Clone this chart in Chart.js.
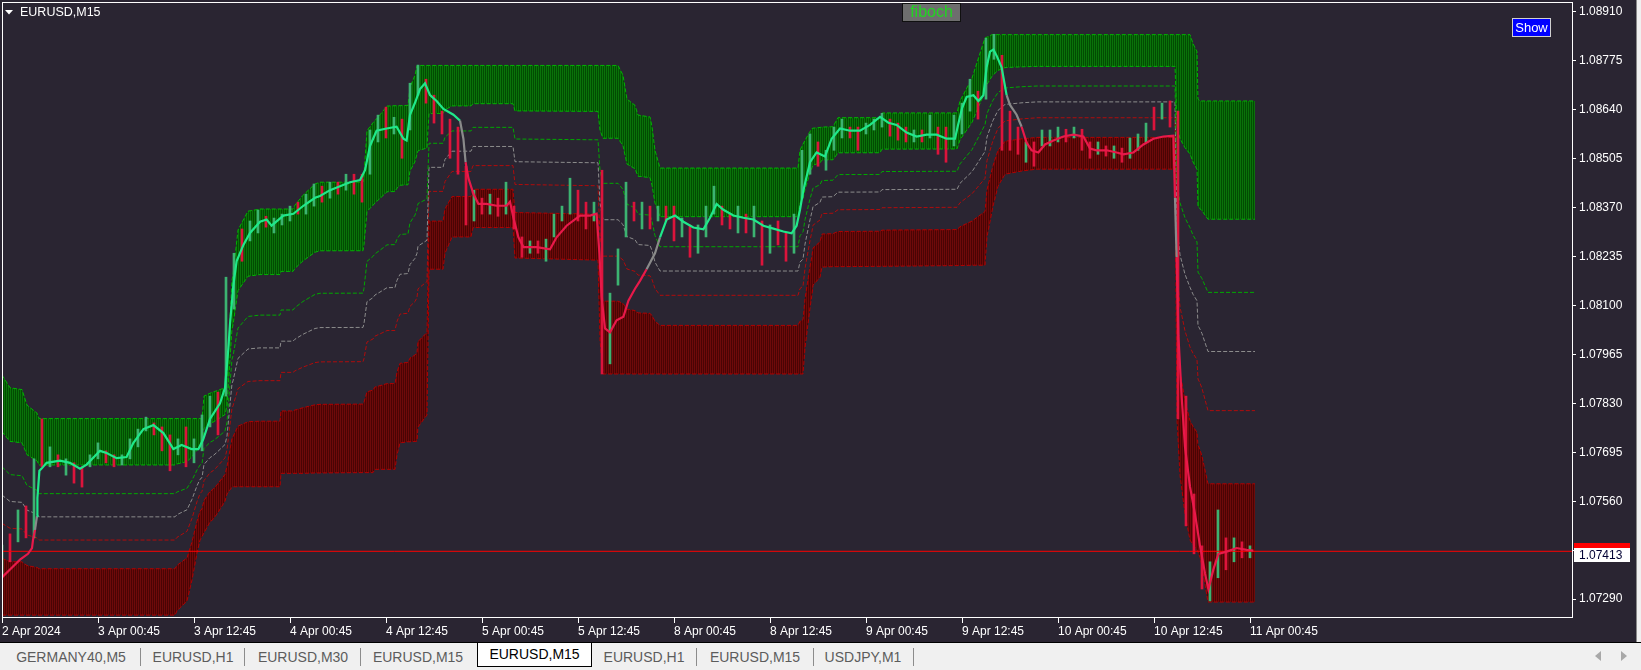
<!DOCTYPE html>
<html>
<head>
<meta charset="utf-8">
<script src="https://cdn.jsdelivr.net/npm/chart.js@4.4.1/dist/chart.umd.min.js"></script>
<style>
  html, body { margin: 0; padding: 0; width: 1641px; height: 670px; overflow: hidden; background: #f0f0f0; font-family: "Liberation Sans", Arial, sans-serif; }
  #panel { position: absolute; left: 0; top: 0; width: 1636px; height: 642px; background: #2a2532; border-right: 1px solid #8a8a8a; }
  #tabs { position: absolute; left: 0; top: 642px; width: 1641px; height: 28px; border-top: 1px solid #000; background: #f0f0f0; }
  .tab { position: absolute; top: 4px; font-size: 14px; color: #5c5c5c; text-align: center; line-height: 20px; }
  .tab.on { top: 0; height: 23px; line-height: 23px; background: #fff; color: #000; border: 1px solid #000; border-top: none; }
  .sep { position: absolute; top: 5px; width: 1px; height: 18px; background: #8c8c8c; }
  .arr { position: absolute; top: 8px; width: 0; height: 0; border-top: 5px solid transparent; border-bottom: 5px solid transparent; }
</style>
</head>
<body>
<div id="panel"><canvas id="chart" width="1636" height="642"></canvas></div>
<div id="tabs">
  <span class="tab" style="left:8px;width:126px">GERMANY40,M5</span>
  <div class="sep" style="left:140px"></div>
  <span class="tab" style="left:146px;width:94px">EURUSD,H1</span>
  <div class="sep" style="left:244px"></div>
  <span class="tab" style="left:250px;width:106px">EURUSD,M30</span>
  <div class="sep" style="left:360px"></div>
  <span class="tab" style="left:366px;width:104px">EURUSD,M15</span>
  <span class="tab on" style="left:477px;width:113px">EURUSD,M15</span>
  <span class="tab" style="left:596px;width:96px">EURUSD,H1</span>
  <div class="sep" style="left:696px"></div>
  <span class="tab" style="left:702px;width:106px">EURUSD,M15</span>
  <div class="sep" style="left:813px"></div>
  <span class="tab" style="left:818px;width:90px">USDJPY,M1</span>
  <div class="sep" style="left:913px"></div>
  <div class="arr" style="left:1595px;border-right:6px solid #a8a8a8"></div>
  <div class="arr" style="left:1621px;border-left:6px solid #a8a8a8"></div>
</div>
<script>
// ---- EURUSD M15 data (1 unit on x = one M15 bar) ----
const timeLabels = ['2 Apr 2024', '3 Apr 00:45', '3 Apr 12:45', '4 Apr 00:45', '4 Apr 12:45', '5 Apr 00:45', '5 Apr 12:45',
  '8 Apr 00:45', '8 Apr 12:45', '9 Apr 00:45', '9 Apr 12:45', '10 Apr 00:45', '10 Apr 12:45', '11 Apr 00:45'];
const barsPerLabel = 48;
const barsPerCandle = 4; // one hourly candle range per 4 bars

const priceTicks = [1.07290, 1.07425, 1.07560, 1.07695, 1.07830, 1.07965, 1.08100,
  1.08235, 1.08370, 1.08505, 1.08640, 1.08775, 1.08910];

// hourly high / low / direction
const candleHi = [
  1.07439, 1.07470, 1.07536, 1.07547, 1.07677, 1.07787, 1.07710, 1.07688, 1.07677, 1.07666,
  1.07655, 1.07688, 1.07721, 1.07699, 1.07688, 1.07688, 1.07732, 1.07759, 1.07792, 1.07776,
  1.07765, 1.07743, 1.07732, 1.07765, 1.07732, 1.07798, 1.07850, 1.07861, 1.08178, 1.08244,
  1.08311, 1.08333, 1.08363, 1.08346, 1.08341, 1.08352, 1.08374, 1.08385, 1.08407, 1.08435,
  1.08429, 1.08440, 1.08440, 1.08462, 1.08462, 1.08462, 1.08584, 1.08625, 1.08647, 1.08619,
  1.08614, 1.08713, 1.08763, 1.08724, 1.08680, 1.08636, 1.08614, 1.08592, 1.08484, 1.08418,
  1.08396, 1.08407, 1.08396, 1.08440, 1.08374, 1.08289, 1.08278, 1.08278, 1.08283, 1.08352,
  1.08374, 1.08451, 1.08418, 1.08385, 1.08385, 1.08473, 1.08134, 1.08256, 1.08440, 1.08385,
  1.08385, 1.08374, 1.08374, 1.08374, 1.08374, 1.08341, 1.08322, 1.08322, 1.08374, 1.08429,
  1.08374, 1.08352, 1.08374, 1.08352, 1.08374, 1.08333, 1.08322, 1.08333, 1.08300, 1.08352,
  1.08528, 1.08573, 1.08551, 1.08528, 1.08592, 1.08614, 1.08592, 1.08592, 1.08603, 1.08614,
  1.08630, 1.08614, 1.08603, 1.08592, 1.08584, 1.08584, 1.08625, 1.08592, 1.08592, 1.08625,
  1.08658, 1.08724, 1.08691, 1.08837, 1.08848, 1.08790, 1.08636, 1.08592, 1.08551, 1.08551,
  1.08584, 1.08584, 1.08592, 1.08586, 1.08592, 1.08586, 1.08551, 1.08551, 1.08540, 1.08540,
  1.08534, 1.08562, 1.08573, 1.08603, 1.08647, 1.08658, 1.08664, 1.08636, 1.07850, 1.07580,
  1.07437, 1.07393, 1.07536, 1.07459, 1.07459, 1.07448, 1.07437];
const candleLo = [
  1.07357, 1.07393, 1.07448, 1.07459, 1.07459, 1.07655, 1.07655, 1.07655, 1.07632, 1.07610,
  1.07599, 1.07655, 1.07677, 1.07666, 1.07655, 1.07660, 1.07677, 1.07710, 1.07754, 1.07743,
  1.07699, 1.07644, 1.07688, 1.07655, 1.07666, 1.07699, 1.07765, 1.07743, 1.07850, 1.08090,
  1.08222, 1.08278, 1.08300, 1.08316, 1.08300, 1.08322, 1.08333, 1.08352, 1.08352, 1.08374,
  1.08385, 1.08396, 1.08407, 1.08418, 1.08407, 1.08385, 1.08462, 1.08551, 1.08562, 1.08573,
  1.08506, 1.08584, 1.08680, 1.08658, 1.08603, 1.08573, 1.08506, 1.08462, 1.08322, 1.08333,
  1.08352, 1.08352, 1.08346, 1.08352, 1.08311, 1.08233, 1.08244, 1.08244, 1.08222, 1.08289,
  1.08333, 1.08352, 1.08333, 1.08311, 1.08333, 1.07911, 1.07939, 1.08156, 1.08289, 1.08333,
  1.08311, 1.08311, 1.08333, 1.08333, 1.08278, 1.08289, 1.08233, 1.08244, 1.08289, 1.08352,
  1.08322, 1.08311, 1.08300, 1.08300, 1.08289, 1.08211, 1.08244, 1.08267, 1.08222, 1.08244,
  1.08396, 1.08462, 1.08484, 1.08473, 1.08528, 1.08562, 1.08562, 1.08528, 1.08573, 1.08584,
  1.08592, 1.08567, 1.08556, 1.08551, 1.08551, 1.08551, 1.08562, 1.08517, 1.08495, 1.08540,
  1.08573, 1.08636, 1.08614, 1.08669, 1.08779, 1.08528, 1.08528, 1.08517, 1.08495, 1.08484,
  1.08540, 1.08540, 1.08551, 1.08551, 1.08562, 1.08528, 1.08506, 1.08517, 1.08512, 1.08506,
  1.08495, 1.08506, 1.08528, 1.08551, 1.08584, 1.08614, 1.08592, 1.07787, 1.07492, 1.07415,
  1.07318, 1.07285, 1.07349, 1.07371, 1.07393, 1.07404, 1.07404];
const candleUp = [
  1,0,1,0,1,0,1,0,1,0, 0,1,1,0,0,1,1,1,1,0, 0,0,1,0,1,1,1,0,1,1, 0,1,1,0,1,1,1,0,1,1,
  0,1,0,1,0,0,1,1,0,1, 0,1,1,0,0,0,0,0,0,1, 0,1,0,1,0,0,1,0,1,1, 1,1,0,0,1,0,1,1,1,0,
  1,0,1,0,0,1,0,1,1,1, 0,0,1,0,1,0,1,0,0,1, 1,1,0,1,1,1,0,0,1,1, 1,0,0,0,1,0,1,0,0,1,
  1,1,0,1,1,0,0,0,1,0, 1,1,1,0,1,0,0,1,0,1, 0,1,1,1,0,1,0,0,0,0, 0,1,1,0,1,0,1];

// smoothed trend line
const maBars = [0, 4, 9, 13, 15, 15.5, 16.5, 17.5, 17.7, 18.7, 19.8, 22.3, 29, 34, 39, 42.3, 49, 52.3, 57.3, 62.3,
  65.7, 70.7, 75.7, 80.7, 85.7, 89.8, 94.8, 98.2, 100.7, 104, 109, 111.5, 113.2, 114, 115.7, 117.3, 120.7, 124, 129, 132.3,
  134.8, 140.7, 145.7, 150.7, 156.5, 159, 164, 169, 174, 179, 181.5, 184, 187.3, 192.3, 197.3, 200.7, 202.3, 204, 206.5, 209,
  211.5, 214, 217.3, 220.7, 225.7, 229, 230.7, 231.8, 233.2, 235.7, 238.2, 242.3, 247.3, 252.3, 254, 255.7, 258.2, 260.7, 267.3, 274,
  277.3, 282.3, 289, 294, 297.3, 298.7, 299.8, 301.5, 304, 307.3, 310.7, 313.2, 316.5, 319, 322.3, 326.5, 329, 332.3, 336.5, 340.7,
  345.7, 350.7, 354, 357.3, 360.7, 365.7, 370.7, 375.7, 380.7, 385.7, 390.7, 394.8, 397.3, 399, 400.7, 404, 407.3, 411.5, 414.8, 419,
  424, 429, 434, 439, 443.2, 447.3, 452.3, 457.3, 462.3, 467.3, 472.3, 476.5, 478, 480, 482.3, 485.7, 488.2, 490.7, 492.3, 494,
  495.7, 497.3, 499.8, 502.3, 504, 507.3, 509.8, 512.3, 514.8, 518.2, 521.5, 525.7, 530.7, 535.7, 540.7, 544, 547.3, 552.3, 557.3, 560.7,
  565.7, 570.7, 575.7, 580.7, 585.7, 586.5, 587.3, 588.2, 589.8, 591.5, 594, 596.5, 599, 601.5, 603.2, 605.7, 608.2, 612.3, 617.3, 622.3,
  625.7];
const maValues = [1.07350, 1.07372, 1.07399, 1.07415, 1.07431, 1.07453, 1.07481, 1.07519, 1.07569, 1.07644, 1.07650, 1.07666, 1.07672, 1.07666, 1.07650, 1.07661, 1.07699, 1.07693, 1.07679, 1.07682,
  1.07721, 1.07759, 1.07770, 1.07748, 1.07704, 1.07715, 1.07704, 1.07704, 1.07732, 1.07787, 1.07830, 1.07873, 1.07983, 1.08049, 1.08157, 1.08222, 1.08267, 1.08300, 1.08331, 1.08337,
  1.08320, 1.08348, 1.08353, 1.08375, 1.08397, 1.08402, 1.08418, 1.08429, 1.08440, 1.08446, 1.08473, 1.08540, 1.08582, 1.08588, 1.08593, 1.08560, 1.08555, 1.08626, 1.08659, 1.08697,
  1.08713, 1.08680, 1.08664, 1.08642, 1.08626, 1.08610, 1.08560, 1.08495, 1.08451, 1.08408, 1.08380, 1.08380, 1.08375, 1.08375, 1.08386, 1.08342, 1.08288, 1.08261, 1.08261, 1.08255,
  1.08288, 1.08320, 1.08348, 1.08348, 1.08353, 1.08244, 1.08124, 1.08037, 1.08026, 1.08059, 1.08069, 1.08113, 1.08146, 1.08168, 1.08200, 1.08244, 1.08288, 1.08337, 1.08348, 1.08331,
  1.08315, 1.08310, 1.08342, 1.08380, 1.08364, 1.08348, 1.08342, 1.08337, 1.08320, 1.08312, 1.08304, 1.08299, 1.08320, 1.08364, 1.08418, 1.08495, 1.08522, 1.08511, 1.08560, 1.08588,
  1.08582, 1.08582, 1.08598, 1.08620, 1.08604, 1.08598, 1.08577, 1.08566, 1.08571, 1.08571, 1.08560, 1.08560, 1.08597, 1.08644, 1.08675, 1.08680, 1.08664, 1.08680, 1.08757, 1.08800,
  1.08806, 1.08789, 1.08757, 1.08680, 1.08653, 1.08626, 1.08593, 1.08549, 1.08528, 1.08522, 1.08544, 1.08555, 1.08566, 1.08571, 1.08566, 1.08533, 1.08528, 1.08528, 1.08522, 1.08517,
  1.08522, 1.08544, 1.08560, 1.08566, 1.08568, 1.08397, 1.08233, 1.08016, 1.07851, 1.07710, 1.07600, 1.07525, 1.07437, 1.07361, 1.07317, 1.07372, 1.07415, 1.07421, 1.07431, 1.07426,
  1.07424];
// bar where the trend colour switches, and the state from there on
const trendStart = [0, 16, 17.5, 229, 231.5, 321.5, 327.5, 500.5, 508, 586, 587.3];
const trendState = ['down', 'flat', 'up', 'flat', 'down', 'flat', 'up', 'flat', 'down', 'flat', 'down'];

// fibo channel: highest high / lowest low
const chanBars = [0, 4, 10, 12.5, 17.5, 18.5, 86.5, 87.5, 92.5, 95,
  97.5, 99, 100, 101, 104, 105.5, 107.5, 111.5, 112.5, 115,
  115.5, 118, 123, 129, 139, 139.5, 145.5, 146.5, 150.5, 156.5,
  159, 180.5, 181, 182.5, 185.5, 186.5, 189, 192.5, 196.5, 197.5,
  199, 203, 204, 206.5, 207.5, 208, 212.5, 213.5, 220.5, 221.5,
  225, 234.5, 235.5, 255.5, 256.5, 298, 299, 300.5, 308, 310.5,
  312.5, 316.5, 318, 324, 325, 326.5, 329, 398, 399, 400.5,
  401.5, 404, 405, 405.5, 409, 410, 415.5, 418, 439, 440,
  477.5, 479, 485, 491.5, 492.5, 495, 495.5, 498, 501.5, 510,
  517.5, 586.5, 587.5, 589, 591.5, 594, 595.5, 597.5, 598, 599,
  600, 603, 626.5];
const chanHigh = [1.07908, 1.07873, 1.07868, 1.07825, 1.07803, 1.07788, 1.07788, 1.07788, 1.07788, 1.07788,
  1.07788, 1.07788, 1.07788, 1.07850, 1.07858, 1.07861, 1.07865, 1.07873, 1.07900, 1.08170,
  1.08184, 1.08308, 1.08360, 1.08366, 1.08366, 1.08366, 1.08366, 1.08377, 1.08404, 1.08435,
  1.08440, 1.08440, 1.08462, 1.08582, 1.08604, 1.08610, 1.08626, 1.08650, 1.08651, 1.08651,
  1.08651, 1.08652, 1.08702, 1.08735, 1.08762, 1.08762, 1.08762, 1.08762, 1.08762, 1.08762,
  1.08762, 1.08762, 1.08762, 1.08762, 1.08762, 1.08762, 1.08762, 1.08762, 1.08762, 1.08735,
  1.08669, 1.08652, 1.08625, 1.08620, 1.08593, 1.08528, 1.08479, 1.08479, 1.08528, 1.08545,
  1.08555, 1.08580, 1.08588, 1.08589, 1.08591, 1.08592, 1.08593, 1.08618, 1.08618, 1.08631,
  1.08631, 1.08664, 1.08727, 1.08838, 1.08840, 1.08847, 1.08847, 1.08847, 1.08847, 1.08847,
  1.08847, 1.08847, 1.08847, 1.08847, 1.08847, 1.08847, 1.08822, 1.08800, 1.08669, 1.08664,
  1.08664, 1.08664, 1.08664];
const chanLow = [1.07246, 1.07246, 1.07246, 1.07246, 1.07246, 1.07246, 1.07246, 1.07258, 1.07285, 1.07343,
  1.07417, 1.07453, 1.07463, 1.07473, 1.07503, 1.07510, 1.07525, 1.07560, 1.07580, 1.07599,
  1.07600, 1.07600, 1.07600, 1.07600, 1.07600, 1.07637, 1.07637, 1.07637, 1.07637, 1.07638,
  1.07638, 1.07639, 1.07639, 1.07639, 1.07639, 1.07648, 1.07648, 1.07648, 1.07648, 1.07688,
  1.07721, 1.07724, 1.07724, 1.07725, 1.07726, 1.07765, 1.07798, 1.08200, 1.08200, 1.08244,
  1.08289, 1.08289, 1.08315, 1.08315, 1.08231, 1.08225, 1.08005, 1.07911, 1.07911, 1.07911,
  1.07911, 1.07911, 1.07911, 1.07911, 1.07911, 1.07911, 1.07911, 1.07911, 1.07911, 1.07911,
  1.07983, 1.08093, 1.08130, 1.08156, 1.08178, 1.08206, 1.08207, 1.08207, 1.08208, 1.08208,
  1.08210, 1.08210, 1.08211, 1.08211, 1.08289, 1.08360, 1.08374, 1.08429, 1.08462, 1.08471,
  1.08476, 1.08476, 1.07784, 1.07632, 1.07525, 1.07453, 1.07440, 1.07426, 1.07420, 1.07405,
  1.07381, 1.07282, 1.07282];
const fibRatios = [0.236, 0.382, 0.5, 0.618, 0.764];

const priceLine = 1.07422;
const priceLabel = '1.07413';

// ---- styling ----
const UP = '#3cb371', DOWN = '#dc143c';
const TREND = { up: '#1fe88a', down: '#e8194a', flat: '#8a8a8a' };

const canvas = document.getElementById('chart');
const ctx = canvas.getContext('2d');

function stripes(a, b) {
  const c = document.createElement('canvas');
  c.width = 2; c.height = 1;
  const g = c.getContext('2d');
  g.fillStyle = a; g.fillRect(0, 0, 1, 1);
  g.fillStyle = b; g.fillRect(1, 0, 1, 1);
  return ctx.createPattern(c, 'repeat');
}
const greenFill = stripes('#0a720a', '#024c02');
const redFill = stripes('#6e0a0a', '#4a0404');

function level(r) {
  return chanBars.map((b, i) => ({ x: b, y: chanHigh[i] - r * (chanHigh[i] - chanLow[i]) }));
}
function trendColor(x) {
  let s = trendState[0];
  for (let i = 0; i < trendStart.length; i++) if (x >= trendStart[i]) s = trendState[i];
  return TREND[s];
}
const dashed = (color, data, extra) => Object.assign({
  type: 'line', data: data, borderColor: color, borderWidth: 1, borderDash: [4, 2],
  pointRadius: 0, tension: 0, fill: false, order: 5
}, extra || {});

const candles = candleHi.map((h, i) => ({ x: i * barsPerCandle, y: [candleLo[i], h] }));
const ma = maBars.map((b, i) => ({ x: b, y: maValues[i] }));

const overlay = {
  id: 'overlay',
  afterDraw(chart) {
    const c = chart.ctx;
    const a = chart.chartArea;
    c.save();
    // frame
    c.strokeStyle = '#ffffff';
    c.lineWidth = 1;
    c.strokeRect(a.left + 0.5, a.top + 0.5, a.right - a.left, a.bottom - a.top - 1);
    // symbol title
    c.fillStyle = '#ffffff';
    c.beginPath(); c.moveTo(5, 10); c.lineTo(13, 10); c.lineTo(9, 14.5); c.closePath(); c.fill();
    c.font = '12.5px "Liberation Sans"';
    c.textBaseline = 'middle';
    c.textAlign = 'left';
    c.fillText('EURUSD,M15', 20, 12.5);
    // fiboch label
    c.fillStyle = '#6e6e6e'; c.fillRect(902, 3, 59, 19);
    c.strokeStyle = '#101010'; c.strokeRect(902.5, 3.5, 58, 18);
    c.fillStyle = '#22d422'; c.font = '16px "Liberation Sans"'; c.textAlign = 'center';
    c.fillText('fiboch', 931.5, 13);
    // Show button
    c.fillStyle = '#0000ff'; c.fillRect(1512, 18, 39, 19);
    c.strokeStyle = '#d0d0d0'; c.strokeRect(1512.5, 18.5, 38, 18);
    c.fillStyle = '#ffffff'; c.font = '13px "Liberation Sans"';
    c.fillText('Show', 1531.5, 28);
    // price label
    const py = chart.scales.y.getPixelForValue(priceLine);
    c.fillStyle = '#ff0000'; c.fillRect(1574, Math.round(py) - 8, 56, 6);
    c.fillStyle = '#ffffff'; c.fillRect(1574, Math.round(py) - 3, 56, 14);
    c.fillStyle = '#000033'; c.font = '12px "Liberation Sans"'; c.textAlign = 'left';
    c.fillText(priceLabel, 1579, Math.round(py) + 4.5);
    c.restore();
  }
};

new Chart(ctx, {
  type: 'line',
  data: {
    datasets: [
      dashed('#00b400', chanBars.map((b, i) => ({ x: b, y: chanHigh[i] })), { fill: '+1', backgroundColor: greenFill, order: 6 }),
      dashed('#00b400', level(fibRatios[0])),
      dashed('#00a800', level(fibRatios[1])),
      dashed('#8c8c8c', level(fibRatios[2])),
      dashed('#b00c0c', level(fibRatios[3])),
      dashed('#b00000', level(fibRatios[4]), { fill: '+1', backgroundColor: redFill, order: 6 }),
      dashed('#b00000', chanBars.map((b, i) => ({ x: b, y: chanLow[i] }))),
      {
        type: 'bar', data: candles, barThickness: 2, grouped: false, borderWidth: 0,
        backgroundColor: candleUp.map(u => u ? UP : DOWN), order: 3
      },
      {
        type: 'line', data: [{ x: 0, y: priceLine }, { x: 785, y: priceLine }],
        borderColor: '#ff0000', borderWidth: 1, pointRadius: 0, order: 2
      },
      {
        type: 'line', data: ma, borderWidth: 2.2, pointRadius: 0, tension: 0,
        borderColor: TREND.up, segment: { borderColor: s => trendColor(s.p0.parsed.x) }, order: 1
      }
    ]
  },
  options: {
    responsive: false,
    animation: false,
    devicePixelRatio: 1,
    layout: { autoPadding: false, padding: { left: 2, top: 2, right: 0, bottom: 0 } },
    plugins: { legend: { display: false }, tooltip: { enabled: false } },
    scales: {
      x: {
        type: 'linear', min: 0, max: 785, offset: false,
        afterFit: s => { s.height = 24; s.paddingLeft = 0; s.paddingRight = 0; },
        afterBuildTicks: s => { s.ticks = timeLabels.map((t, i) => ({ value: i * barsPerLabel })); },
        ticks: {
          color: '#ffffff', font: { family: 'Liberation Sans', size: 12 }, align: 'start',
          padding: 1, maxRotation: 0, autoSkip: false, callback: (v, i) => timeLabels[i]
        },
        grid: { drawOnChartArea: false, offset: false, color: '#ffffff', tickLength: 5 },
        border: { display: false }
      },
      y: {
        position: 'right', min: 1.07238, max: 1.08937,
        afterFit: s => { s.width = 64; s.paddingTop = 0; s.paddingBottom = 0; },
        afterBuildTicks: s => { s.ticks = priceTicks.map(v => ({ value: v })); },
        ticks: { color: '#ffffff', font: { family: 'Liberation Sans', size: 12 }, padding: 3, callback: v => v.toFixed(5) },
        grid: { drawOnChartArea: false, color: '#ffffff', tickLength: 4 },
        border: { display: false }
      }
    }
  },
  plugins: [overlay]
});
</script>
</body>
</html>
